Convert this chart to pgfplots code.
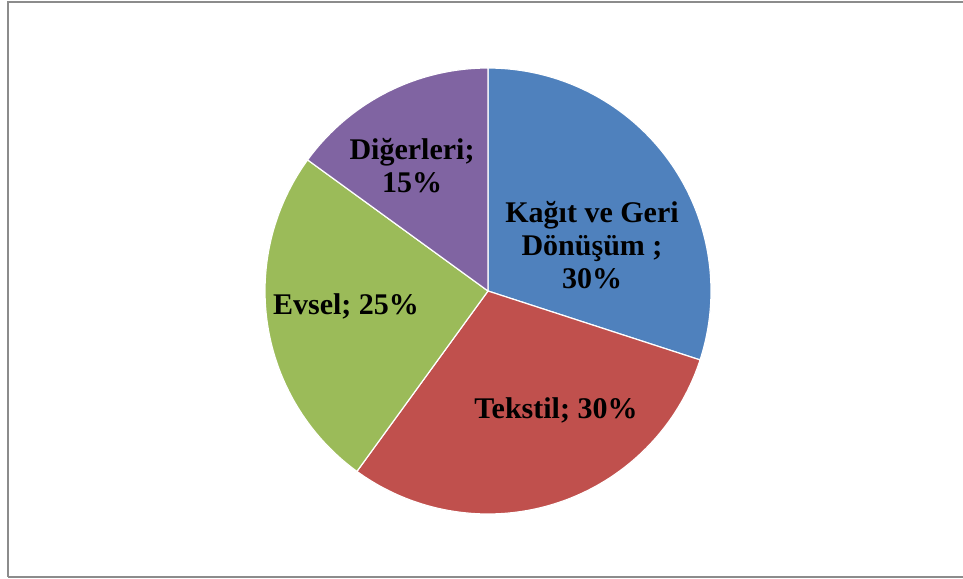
\documentclass[border=0pt]{standalone}
\usepackage{pgfplots}
\usepackage{pgfplotstable}
\pgfplotsset{compat=1.18}
\usepackage{fontspec}
\setmainfont{Liberation Serif}
\definecolor{cA}{HTML}{4F81BD}
\definecolor{cB}{HTML}{C0504D}
\definecolor{cC}{HTML}{9BBB59}
\definecolor{cD}{HTML}{8064A2}
\pgfplotstableread{
idx value
0 30
1 30
2 25
3 15
}\piedata
\pgfplotstablegetelem{0}{value}\of\piedata \let\vA\pgfplotsretval
\pgfplotstablegetelem{1}{value}\of\piedata \let\vB\pgfplotsretval
\pgfplotstablegetelem{2}{value}\of\piedata \let\vC\pgfplotsretval
\pgfplotstablegetelem{3}{value}\of\piedata \let\vD\pgfplotsretval
\pgfmathsetmacro{\aZero}{90}
\pgfmathsetmacro{\aOne}{\aZero-3.6*\vA}
\pgfmathsetmacro{\aTwo}{\aOne-3.6*\vB}
\pgfmathsetmacro{\aThree}{\aTwo-3.6*\vC}
\pgfmathsetmacro{\aFour}{\aThree-3.6*\vD}
\def\cx{488}
\def\cy{287}
\def\rr{223}
\begin{document}
\begin{tikzpicture}
\begin{axis}[
  width=481.5pt, height=289pt, scale only axis,
  xmin=0, xmax=963, ymin=0, ymax=578,
  hide axis, clip=false,
]
\addplot[fill=cA, draw=white, line width=0.6pt, domain=\aOne:\aZero, samples=90, mark=none]
  ({\cx+\rr*cos(x)},{\cy+\rr*sin(x)}) -- (axis cs:\cx,\cy) -- cycle;
\addplot[fill=cB, draw=white, line width=0.6pt, domain=\aTwo:\aOne, samples=90, mark=none]
  ({\cx+\rr*cos(x)},{\cy+\rr*sin(x)}) -- (axis cs:\cx,\cy) -- cycle;
\addplot[fill=cC, draw=white, line width=0.6pt, domain=\aThree:\aTwo, samples=90, mark=none]
  ({\cx+\rr*cos(x)},{\cy+\rr*sin(x)}) -- (axis cs:\cx,\cy) -- cycle;
\addplot[fill=cD, draw=white, line width=0.6pt, domain=\aFour:\aThree, samples=90, mark=none]
  ({\cx+\rr*cos(x)},{\cy+\rr*sin(x)}) -- (axis cs:\cx,\cy) -- cycle;
\draw[color=black!45, line width=1pt] (axis cs:8,1) -- (axis cs:8,576) -- (axis cs:963,576);
\draw[color=black!45, line width=1pt] (axis cs:8,1) -- (axis cs:963,1);
\begin{scope}[every node/.style={font=\fontsize{15}{16.5}\selectfont\bfseries, align=center, inner sep=0pt}]
\node at (axis cs:592,333) {Kağıt ve Geri\\Dönüşüm ;\\30\%};
\node at (axis cs:556,168) {Tekstil; 30\%};
\node at (axis cs:346,272) {Evsel; 25\%};
\node at (axis cs:412,412) {Diğerleri;\\15\%};
\end{scope}
\end{axis}
\pgfresetboundingbox
\useasboundingbox (current axis.south west) rectangle (current axis.north east);
\end{tikzpicture}
\end{document}
